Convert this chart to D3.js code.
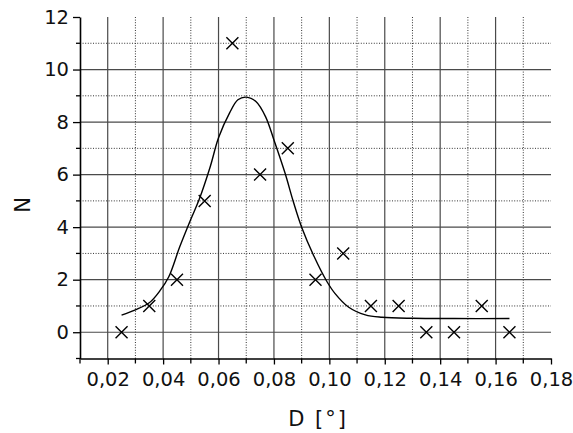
<!DOCTYPE html>
<html>
<head>
<meta charset="utf-8">
<script src="https://cdn.jsdelivr.net/npm/d3@7"></script>
<style>
  body { margin: 0; background: #fff; }
  svg text { font-family: "DejaVu Sans", sans-serif; fill: #111; }
  .tick text { font-size: 19.5px; }
  .axtitle { font-size: 21px; }
</style>
</head>
<body>
<div id="chart"></div>
<script>
// Messpunkte (Kreuze)
const pointD = [0.025, 0.035, 0.045, 0.055, 0.065, 0.075, 0.085, 0.095, 0.105, 0.115, 0.125, 0.135, 0.145, 0.155, 0.165]
const pointN = [0, 1, 2, 5, 11, 6, 7, 2, 3, 1, 1, 0, 0, 1, 0]

// Fitkurve
const curveD = [0.025, 0.030, 0.035, 0.039, 0.042, 0.046, 0.050, 0.053, 0.057, 0.060, 0.064, 0.067, 0.070, 0.0735, 0.077, 0.080, 0.084, 0.087, 0.090, 0.0945, 0.099, 0.102, 0.107, 0.113, 0.119, 0.130, 0.145, 0.165]
const curveN = [0.65, 0.85, 1.12, 1.6, 2.1, 3.25, 4.3, 5.05, 6.3, 7.4, 8.35, 8.85, 8.95, 8.78, 8.2, 7.32, 6.06, 4.97, 4.0, 2.88, 1.95, 1.48, 0.95, 0.66, 0.57, 0.53, 0.52, 0.52]

// Achsen
const xTicks = [0.02, 0.04, 0.06, 0.08, 0.10, 0.12, 0.14, 0.16, 0.18]
const xMinor = [0.01, 0.03, 0.05, 0.07, 0.09, 0.11, 0.13, 0.15, 0.17]
const yTicks = [0, 2, 4, 6, 8, 10, 12]
const yMinor = [-1, 1, 3, 5, 7, 9, 11]

const width = 573
const height = 433
const plotL = 80, plotR = 551, plotT = 17, plotB = 358.5

const svg = d3.select("#chart").append("svg")
  .attr("width", width)
  .attr("height", height)

const x = d3.scaleLinear().domain([0.01, 0.18]).range([plotL, plotR])
const y = d3.scaleLinear().domain([-1, 12]).range([plotB, plotT])

// Gitter
const grid = svg.append("g")
grid.selectAll("line.vmaj")
  .data(xTicks.filter(d => d < 0.18))
  .enter().append("line")
  .attr("x1", d => x(d)).attr("x2", d => x(d))
  .attr("y1", plotT).attr("y2", plotB)
  .attr("stroke", "#4a4a4a").attr("stroke-width", 1.2)
grid.selectAll("line.vmin")
  .data(xMinor.filter(d => d > 0.01))
  .enter().append("line")
  .attr("x1", d => x(d)).attr("x2", d => x(d))
  .attr("y1", plotT).attr("y2", plotB)
  .attr("stroke", "#333").attr("stroke-width", 1)
  .attr("stroke-dasharray", "1,1.6")
grid.selectAll("line.hmaj")
  .data(yTicks.filter(d => d < 12))
  .enter().append("line")
  .attr("x1", plotL).attr("x2", plotR)
  .attr("y1", d => y(d)).attr("y2", d => y(d))
  .attr("stroke", "#4a4a4a").attr("stroke-width", 1.2)
grid.selectAll("line.hmin")
  .data(yMinor.filter(d => d > -1))
  .enter().append("line")
  .attr("x1", plotL).attr("x2", plotR)
  .attr("y1", d => y(d)).attr("y2", d => y(d))
  .attr("stroke", "#333").attr("stroke-width", 1)
  .attr("stroke-dasharray", "1,1.6")

// x-Achse
const fmt = d => d3.format(".2f")(d).replace(".", ",")
const xAxis = svg.append("g")
  .attr("transform", "translate(0," + plotB + ")")
  .call(d3.axisBottom(x).tickValues(xTicks).tickFormat(fmt).tickSize(6).tickPadding(8).tickSizeOuter(0))
xAxis.append("g").selectAll("line")
  .data(xMinor)
  .enter().append("line")
  .attr("x1", d => x(d)).attr("x2", d => x(d))
  .attr("y1", 0).attr("y2", 5)
  .attr("stroke", "#000").attr("stroke-width", 1.3)

// y-Achse
const yAxis = svg.append("g")
  .attr("transform", "translate(" + plotL + ",0)")
  .call(d3.axisLeft(y).tickValues(yTicks).tickSize(7).tickPadding(4).tickSizeOuter(0))
yAxis.append("g").selectAll("line")
  .data(yMinor)
  .enter().append("line")
  .attr("x1", -4).attr("x2", 0)
  .attr("y1", d => y(d)).attr("y2", d => y(d))
  .attr("stroke", "#000").attr("stroke-width", 1.3)

svg.selectAll(".domain").attr("stroke", "#000").attr("stroke-width", 1.6)
svg.selectAll(".tick line").attr("stroke", "#000").attr("stroke-width", 1.3)
svg.selectAll(".tick text").attr("fill", "#111").style("font-family", "DejaVu Sans, sans-serif")

// Kurve
const curveData = curveD.map((d, i) => ({ d: d, n: curveN[i] }))
svg.append("path")
  .datum(curveData)
  .attr("fill", "none")
  .attr("stroke", "#000")
  .attr("stroke-width", 1.4)
  .attr("d", d3.line().x(p => x(p.d)).y(p => y(p.n)).curve(d3.curveCatmullRom))

// Kreuze
const s = 6
const pts = pointD.map((d, i) => ({ d: d, n: pointN[i] }))
svg.append("g").selectAll("path")
  .data(pts)
  .enter().append("path")
  .attr("d", p => {
    const cx = x(p.d), cy = y(p.n)
    return "M" + (cx - s) + "," + (cy - s) + "L" + (cx + s) + "," + (cy + s) +
      "M" + (cx - s) + "," + (cy + s) + "L" + (cx + s) + "," + (cy - s)
  })
  .attr("stroke", "#000")
  .attr("stroke-width", 1.4)
  .attr("fill", "none")

// Achsentitel
svg.append("text")
  .attr("class", "axtitle")
  .attr("transform", "translate(30,205) rotate(-90)")
  .style("text-anchor", "middle")
  .text("N")

svg.append("text")
  .attr("class", "axtitle")
  .attr("x", 318)
  .attr("y", 426)
  .style("text-anchor", "middle")
  .style("letter-spacing", "2px")
  .text("D [°]")
</script>
</body>
</html>
